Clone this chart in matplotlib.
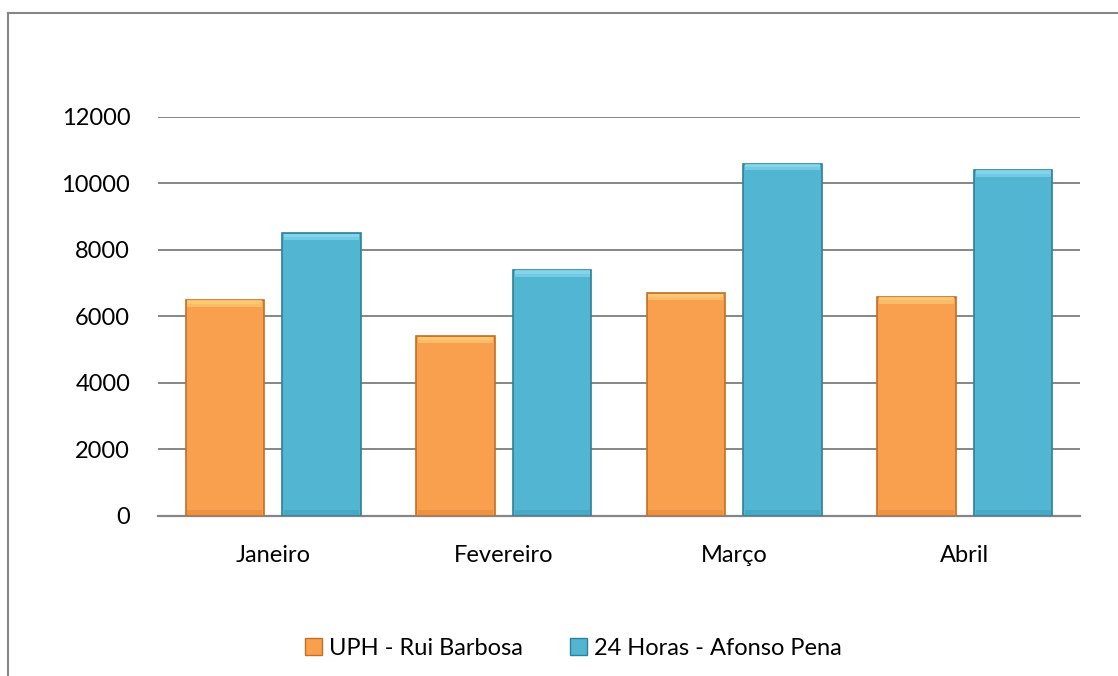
import numpy as np
import matplotlib.pyplot as plt
from matplotlib.patches import Patch
from matplotlib.lines import Line2D

# data
meses = ["Janeiro", "Fevereiro", "Março", "Abril"]
uph_rui_barbosa = [6500, 5400, 6700, 6600]
horas24_afonso_pena = [8500, 7400, 10600, 10400]
series_names = ["UPH - Rui Barbosa", "24 Horas - Afonso Pena"]

plt.rcParams['font.family'] = ['Lato', 'DejaVu Sans']

fig = plt.figure(figsize=(11.18, 6.76), dpi=100)
ax = fig.add_axes([0.1413, 0.2367, 0.8247, 0.5903])

x = np.arange(len(meses))
w = 0.34
off = 0.21

styles = [
    ("#F9A04F", "#C46E26", "#FFD27A"),
    ("#52B6D3", "#2F8197", "#8EDDF0"),
]
for vals, sign, (face, edge, light) in zip([uph_rui_barbosa, horas24_afonso_pena], [-1, 1], styles):
    vals = np.array(vals)
    ax.bar(x + sign * off, vals, w, color=face, edgecolor=edge, linewidth=1.2, zorder=3)
    # light bevel at the top of each bar
    ax.bar(x + sign * off, np.full(len(vals), 200), w * 0.96, bottom=vals - 210,
           color=light, linewidth=0, alpha=0.55, zorder=4)
    ax.bar(x + sign * off, np.full(len(vals), 100), w * 0.96, bottom=vals - 110,
           color=light, linewidth=0, alpha=0.6, zorder=4)
    # darker bevel at the bottom
    ax.bar(x + sign * off, np.full(len(vals), 150), w * 0.96, bottom=20,
           color=edge, linewidth=0, alpha=0.25, zorder=4)

ax.set_xlim(-0.5, 3.5)
ax.set_ylim(0, 12000)
ax.set_yticks(np.arange(0, 12001, 2000))
ax.set_xticks(x)
ax.set_xticklabels(meses)
ax.grid(axis='y', color='#868686', linewidth=1.4, zorder=0)
ax.set_axisbelow(True)
for s in ['top', 'right', 'left']:
    ax.spines[s].set_visible(False)
ax.spines['bottom'].set_color('#868686')
ax.spines['bottom'].set_linewidth(1.6)
ax.tick_params(axis='both', length=0, labelsize=17, colors='black')
ax.tick_params(axis='y', pad=20)
ax.tick_params(axis='x', pad=21)

# outer chart frame (top and left edges visible)
fig.add_artist(Line2D([8 / 1118, 1.0], [1 - 13 / 676] * 2, color='#868686', linewidth=1.5,
                      transform=fig.transFigure))
fig.add_artist(Line2D([8 / 1118] * 2, [0, 1 - 13 / 676], color='#868686', linewidth=1.5,
                      transform=fig.transFigure))

handles = [Patch(facecolor=f, edgecolor=e) for f, e, _ in styles]
fig.legend(handles, series_names, loc='center', bbox_to_anchor=(0.513, 0.041), ncol=2,
           frameon=False, fontsize=17, handlelength=0.7, handleheight=0.7,
           handletextpad=0.3, columnspacing=2.0)

fig.savefig("out.png", dpi=100)
